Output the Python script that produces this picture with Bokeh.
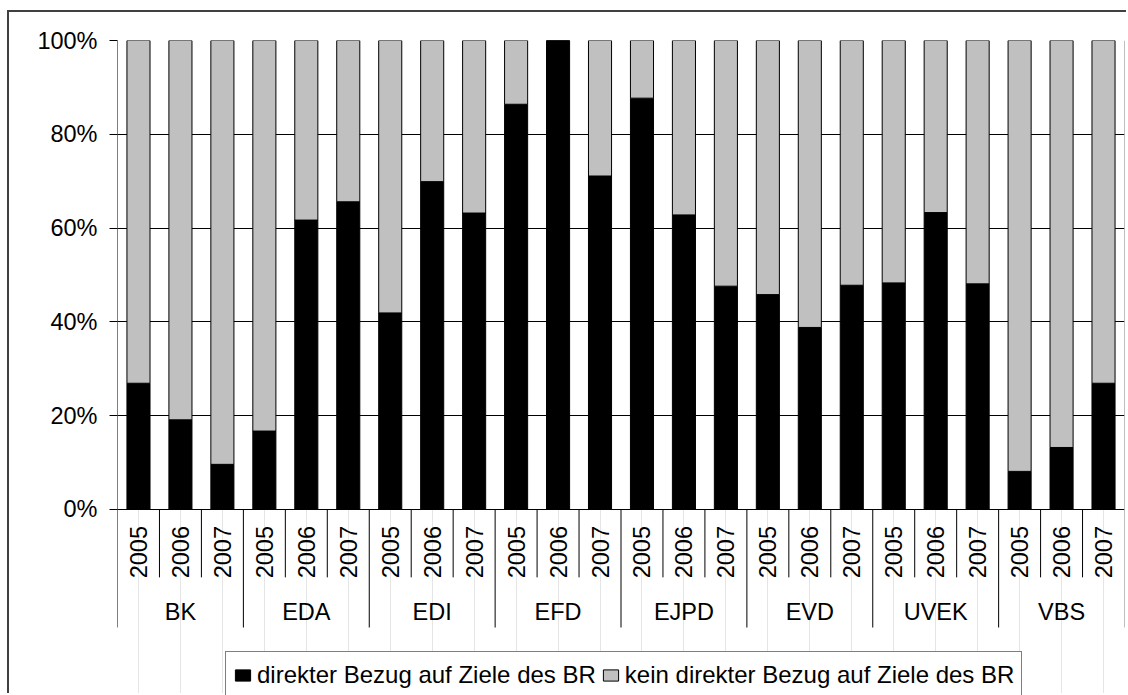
import numpy as np
from bokeh.plotting import figure
from bokeh.models import (FactorRange, Range1d, FixedTicker, NumeralTickFormatter,
                          ColumnDataSource, Legend, LegendItem)
from bokeh.transform import dodge
from bokeh.core.properties import value
from bokeh.embed import file_html
from bokeh.resources import INLINE

departments = ["BK", "EDA", "EDI", "EFD", "EJPD", "EVD", "UVEK", "VBS"]
years = ["2005", "2006", "2007"]
direkt = [26.9, 19.1, 9.6, 16.7, 61.7, 65.6, 41.9, 69.9, 63.2, 86.4, 100.0, 71.1,
          87.7, 62.8, 47.6, 45.8, 38.8, 47.8, 48.3, 63.3, 48.1, 8.1, 13.2, 26.9]
kein = [73.1, 80.9, 90.4, 83.3, 38.3, 34.4, 58.1, 30.1, 36.8, 13.6, 0.0, 28.9,
        12.3, 37.2, 52.4, 54.2, 61.2, 52.2, 51.7, 36.7, 51.9, 91.9, 86.8, 73.1]
y_ticks = [0, 0.2, 0.4, 0.6, 0.8, 1.0]
labels = ["direkter Bezug auf Ziele des BR", "kein direkter Bezug auf Ziele des BR"]

FONT = "Liberation Sans"
FS = "23.5px"

factors = [(d, y) for d in departments for y in years]

p = figure(x_range=FactorRange(*factors, factor_padding=0, group_padding=0, range_padding=0),
           y_range=Range1d(-0.397, 1.0),
           width=1119, height=683, output_backend="svg", toolbar_location=None,
           x_axis_location=None,
           min_border_left=108, min_border_right=4, min_border_top=28, min_border_bottom=0,
           outline_line_color=None,
           styles={"margin-left": "7px", "margin-top": "10px",
                   "border-top": "2px solid #404040", "border-left": "2px solid #404040"})

src = ColumnDataSource(dict(x=factors,
                            direkt=[v / 100 for v in direkt],
                            kein=[v / 100 for v in kein]))
rs = p.vbar_stack(["direkt", "kein"], x="x", width=0.55, source=src,
                  fill_color=["black", "#C0C0C0"], line_color="black", line_width=1)

# y axis
p.yaxis.ticker = FixedTicker(ticks=y_ticks)
p.yaxis.formatter = NumeralTickFormatter(format="0%")
p.yaxis.axis_line_color = None
p.yaxis.major_tick_out = 8
p.yaxis.major_tick_in = 0
p.yaxis.minor_tick_line_color = None
p.yaxis.major_tick_line_color = "black"
p.yaxis.major_label_standoff = 12
p.yaxis.major_label_text_font = FONT
p.yaxis.major_label_text_font_size = FS
p.yaxis.major_label_text_color = "black"
p.ygrid.ticker = FixedTicker(ticks=y_ticks)
p.ygrid.grid_line_color = "black"
p.ygrid.grid_line_width = 1
p.grid.level = "underlay"

# category labels
lab_src = ColumnDataSource(dict(x=factors, label=[y for d in departments for y in years]))
p.text(x="x", y=-0.147, text="label", source=lab_src, angle=np.pi / 2,
       text_align="left", text_baseline="middle", text_font=value(FONT),
       text_font_size=FS, text_color="black")
grp_src = ColumnDataSource(dict(x=[(d, "2006") for d in departments], label=departments))
p.text(x="x", y=-0.219, text="label", source=grp_src, text_align="center",
       text_baseline="middle", text_font=value(FONT), text_font_size=FS, text_color="black")

# separators
ysep = ColumnDataSource(dict(f=[(d, y) for d in departments for y in years[1:]]))
p.segment(x0=dodge("f", -0.5, range=p.x_range), x1=dodge("f", -0.5, range=p.x_range),
          y0=0, y1=-0.145, source=ysep, line_color="black", line_width=1)
gsep = ColumnDataSource(dict(f=[(d, "2005") for d in departments[1:]]))
p.segment(x0=dodge("f", -0.5, range=p.x_range), x1=dodge("f", -0.5, range=p.x_range),
          y0=0, y1=-0.252, source=gsep, line_color="black", line_width=1)
lsep = ColumnDataSource(dict(f=[(departments[0], years[0])]))
p.segment(x0=dodge("f", -0.5, range=p.x_range), x1=dodge("f", -0.5, range=p.x_range),
          y0=1.0, y1=-0.252, source=lsep, line_color="black", line_width=1)
rsep = ColumnDataSource(dict(f=[(departments[-1], years[-1])]))
p.segment(x0=dodge("f", 0.5, range=p.x_range), x1=dodge("f", 0.5, range=p.x_range),
          y0=1.0, y1=-0.252, source=rsep, line_color="#808080", line_width=1)

legend = Legend(items=[LegendItem(label=labels[0], renderers=[rs[0]]),
                       LegendItem(label=labels[1], renderers=[rs[1]])],
                location=(108, -4), orientation="horizontal",
                label_text_font=FONT, label_text_font_size="24px", label_text_color="black",
                glyph_width=19, glyph_height=14, label_standoff=5, spacing=5,
                label_height=32, padding=7, margin=0,
                border_line_color="black", border_line_width=1,
                background_fill_color="white", background_fill_alpha=1.0)
p.add_layout(legend)

open("out.html", "w").write(file_html(p, INLINE))
